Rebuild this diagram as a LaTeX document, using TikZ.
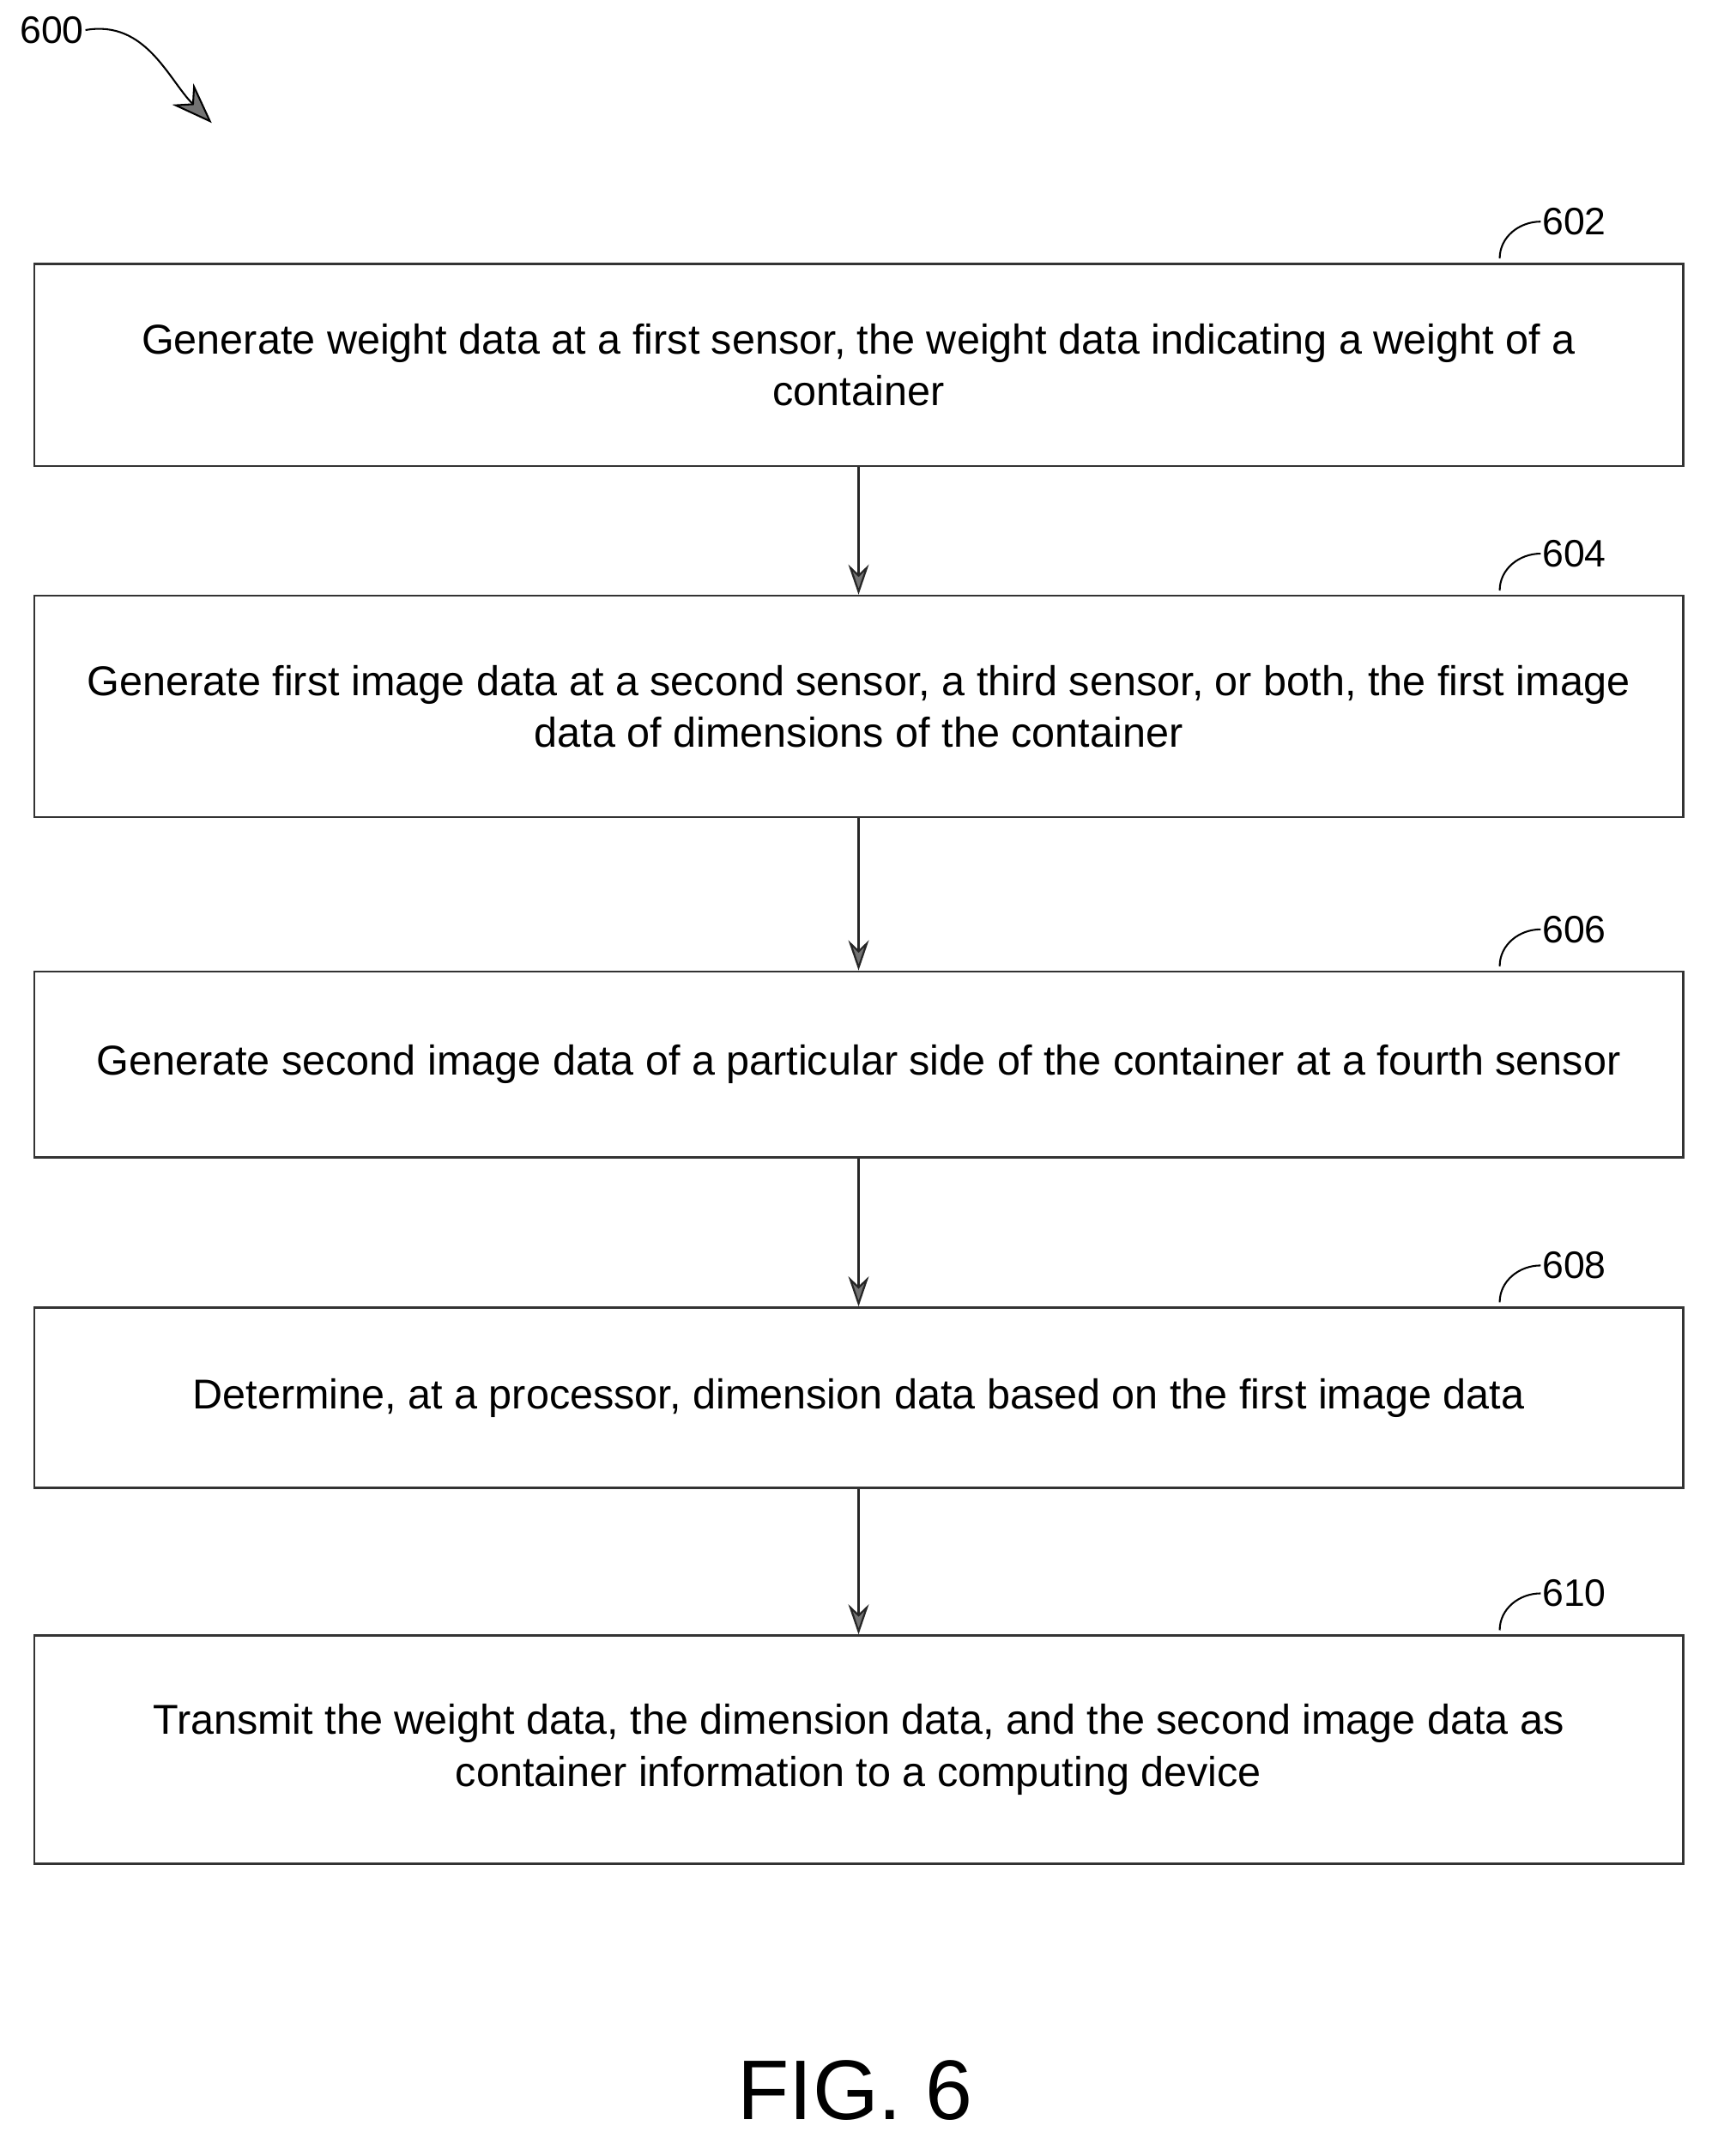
\documentclass[tikz,border=0pt]{standalone}
\usepackage{fontspec}
\setmainfont{Liberation Sans}
\usetikzlibrary{arrows.meta,positioning}
\tikzset{
  stepbox/.style={draw=black!80,line width=1.6pt,minimum width=1207pt,align=center,
    font=\fontsize{30.5}{38}\selectfont,inner sep=0pt},
  flow/.style={draw=black!85,line width=1.4pt,-{Stealth[length=22pt,width=15pt,fill=black!55]}},
  refnum/.style={font=\fontsize{28}{34}\selectfont,inner sep=1pt}
}
\begin{document}
\begin{tikzpicture}[x=1pt,y=-1pt]
  \useasboundingbox (0,0) rectangle (1253,1578);
  % steps
  \node[stepbox,minimum height=148pt] (s602) at (628.5,267) {Generate weight data at a first sensor, the weight data indicating a weight of a\\container};
  \node[stepbox,minimum height=162pt] (s604) at (628.5,517) {Generate first image data at a second sensor, a third sensor, or both, the first image\\data of dimensions of the container};
  \node[stepbox,minimum height=136pt] (s606) at (628.5,779) {Generate second image data of a particular side of the container at a fourth sensor};
  \node[stepbox,minimum height=132pt] (s608) at (628.5,1023) {Determine, at a processor, dimension data based on the first image data};
  \node[stepbox,minimum height=167pt] (s610) at (628.5,1280.5) {Transmit the weight data, the dimension data, and the second image data as\\container information to a computing device};
  % connectors
  \draw[flow] (s602) -- (s604);
  \draw[flow] (s604) -- (s606);
  \draw[flow] (s606) -- (s608);
  \draw[flow] (s608) -- (s610);
  % reference numerals
  \foreach \n in {602,604,606,608,610}{
    \node[refnum,anchor=west] (r\n) at ([xshift=-105pt,yshift=30pt]s\n.north east) {\n};
    \draw[line width=1.3pt] ([xshift=-135pt,yshift=3pt]s\n.north east) to[out=90,in=180] (r\n.west);
  }
  \node[refnum] (r600) at (38,22) {600};
  \coordinate (a600) at (155,90);
  \draw[line width=1.3pt,-{Stealth[length=30pt,width=22pt,fill=black!55]}] (r600.east) to[out=10,in=135] (a600);
  \node[font=\fontsize{62}{70}\selectfont] (fig) at (626,1530) {FIG. 6};
\end{tikzpicture}
\end{document}
